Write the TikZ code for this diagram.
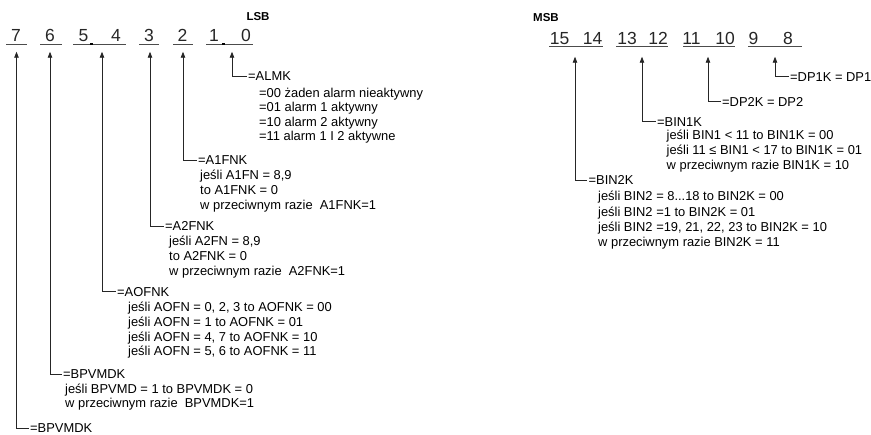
\documentclass[tikz,border=0pt]{standalone}
\usepackage{fontspec}
\setmainfont{Liberation Sans}
\usetikzlibrary{arrows.meta}
\begin{document}
\begin{tikzpicture}[x=1pt,y=-1pt,
  digit/.style={anchor=base,inner sep=0pt,text=black!85,font=\fontsize{17.5}{17.5}\selectfont},
  lbl/.style={anchor=west,inner xsep=1.5pt,inner ysep=0pt,font=\fontsize{12.9}{15}\selectfont},
  sub/.style={anchor=base west,inner sep=0pt,font=\fontsize{12.9}{15}\selectfont},
  head/.style={anchor=base,inner sep=0pt,font=\bfseries\fontsize{11.5}{12}\selectfont},
  uline/.style={line width=0.9pt,draw=black!70},
  conn/.style={line width=0.8pt,draw=black!85,-{Triangle[length=6pt,width=4.5pt]}},
]
\useasboundingbox (0,0) rectangle (871,435);

% ---------- LSB ----------
\node[head] (lsb) at (258,20.7) {LSB};
\node[digit] (d7) at (16,41.5) {7};
\node[digit] (d6) at (50,41.5) {6};
\node[digit] (d5) at (83.5,41.5) {5};
\node[digit] (d4) at (116,41.5) {4};
\node[digit] (d3) at (149,41.5) {3};
\node[digit] (d2) at (182.5,41.5) {2};
\node[digit] (d1) at (214,41.5) {1};
\node[digit] (d0) at (246,41.5) {0};
\draw[uline] (6,44.3) -- (27,44.3);
\draw[uline] (40,44.3) -- (62,44.3);
\draw[uline] (73,44.3) -- (126,44.3);
\draw[uline] (139,44.3) -- (159,44.3);
\draw[uline] (173,44.3) -- (193,44.3);
\draw[uline] (206,44.3) -- (253,44.3);
\fill[black] (90,43.4) rectangle (92.5,45.3);
\fill[black] (222,43.4) rectangle (224.5,45.3);

\coordinate (t7) at (16.5,51.7);
\coordinate (t6) at (50,51.7);
\coordinate (t54) at (102,51.7);
\coordinate (t3) at (150,51.7);
\coordinate (t2) at (183,51.7);
\coordinate (t10) at (232,51.7);

% ALMK
\node[lbl] (almk) at (246.5,76) {=ALMK};
\node[sub] (almk1) at (259,97.5) {=00 żaden alarm nieaktywny};
\node[sub] (almk2) at (259,112) {=01 alarm 1 aktywny};
\node[sub] (almk3) at (259,126.5) {=10 alarm 2 aktywny};
\node[sub] (almk4) at (259,141) {=11 alarm 1 I 2 aktywne};
\draw[conn] (almk.west) -| (t10);

% A1FNK
\node[lbl] (a1) at (196.5,160) {=A1FNK};
\node[sub] (a11) at (200,180) {jeśli A1FN = 8,9};
\node[sub] (a12) at (200,195) {to A1FNK = 0};
\node[sub] (a13) at (200,210) {w przeciwnym razie \ A1FNK=1};
\draw[conn] (a1.west) -| (t2);

% A2FNK
\node[lbl] (a2) at (163.5,226) {=A2FNK};
\node[sub] (a21) at (169,245.5) {jeśli A2FN = 8,9};
\node[sub] (a22) at (169,260.5) {to A2FNK = 0};
\node[sub] (a23) at (169,275.5) {w przeciwnym razie \ A2FNK=1};
\draw[conn] (a2.west) -| (t3);

% AOFNK
\node[lbl] (ao) at (115.5,291.7) {=AOFNK};
\node[sub] (ao1) at (128,311.5) {jeśli AOFN = 0, 2, 3 to AOFNK = 00};
\node[sub] (ao2) at (128,326.3) {jeśli AOFN = 1 to AOFNK = 01};
\node[sub] (ao3) at (128,341.1) {jeśli AOFN = 4, 7 to AOFNK = 10};
\node[sub] (ao4) at (128,356) {jeśli AOFN = 5, 6 to AOFNK = 11};
\draw[conn] (ao.west) -| (t54);

% BPVMDK (bit 6)
\node[lbl] (bp) at (61.5,374) {=BPVMDK};
\node[sub] (bp1) at (65,393.3) {jeśli BPVMD = 1 to BPVMDK = 0};
\node[sub] (bp2) at (65,407.5) {w przeciwnym razie \ BPVMDK=1};
\draw[conn] (bp.west) -| (t6);

% BPVMDK (bit 7)
\node[lbl] (bq) at (28.5,428.5) {=BPVMDK};
\draw[conn] (bq.west) -| (t7);

% ---------- MSB ----------
\node[head] (msb) at (546,21.7) {MSB};
\node[digit] (m15) at (559.5,45) {15};
\node[digit] (m14) at (592.5,45) {14};
\node[digit] (m13) at (627,45) {13};
\node[digit] (m12) at (658,45) {12};
\node[digit] (m11) at (691.5,45) {11};
\node[digit] (m10) at (725,45) {10};
\node[digit] (m9) at (753.5,45) {9};
\node[digit] (m8) at (788,45) {8};
\draw[uline] (549,46.7) -- (603,46.7);
\draw[uline] (616,46.7) -- (668,46.7);
\draw[uline] (683,46.7) -- (735,46.7);
\draw[uline] (748,46.7) -- (802,46.7);

\coordinate (u1514) at (575,56.7);
\coordinate (u1312) at (642,56.7);
\coordinate (u1110) at (708,56.7);
\coordinate (u98) at (775,56.7);

% DP1K
\node[lbl] (dp1) at (788.5,76.7) {=DP1K = DP1};
\draw[conn] (dp1.west) -| (u98);

% DP2K
\node[lbl] (dp2) at (720.5,101.7) {=DP2K = DP2};
\draw[conn] (dp2.west) -| (u1110);

% BIN1K
\node[lbl] (b1) at (655.5,121.7) {=BIN1K};
\node[sub] (b11) at (666.5,140) {jeśli BIN1 < 11 to BIN1K = 00};
\node[sub] (b12) at (666.5,155) {jeśli 11 ≤ BIN1 < 17 to BIN1K = 01};
\node[sub] (b13) at (666.5,170) {w przeciwnym razie BIN1K = 10};
\draw[conn] (b1.west) -| (u1312);

% BIN2K
\node[lbl] (b2) at (587,180) {=BIN2K};
\node[sub] (b21) at (598,201) {jeśli BIN2 = 8...18 to BIN2K = 00};
\node[sub] (b22) at (598,216.5) {jeśli BIN2 =1 to BIN2K = 01};
\node[sub] (b23) at (598,231.5) {jeśli BIN2 =19, 21, 22, 23 to BIN2K = 10};
\node[sub] (b24) at (598,246.5) {w przeciwnym razie BIN2K = 11};
\draw[conn] (b2.west) -| (u1514);
\end{tikzpicture}
\end{document}
